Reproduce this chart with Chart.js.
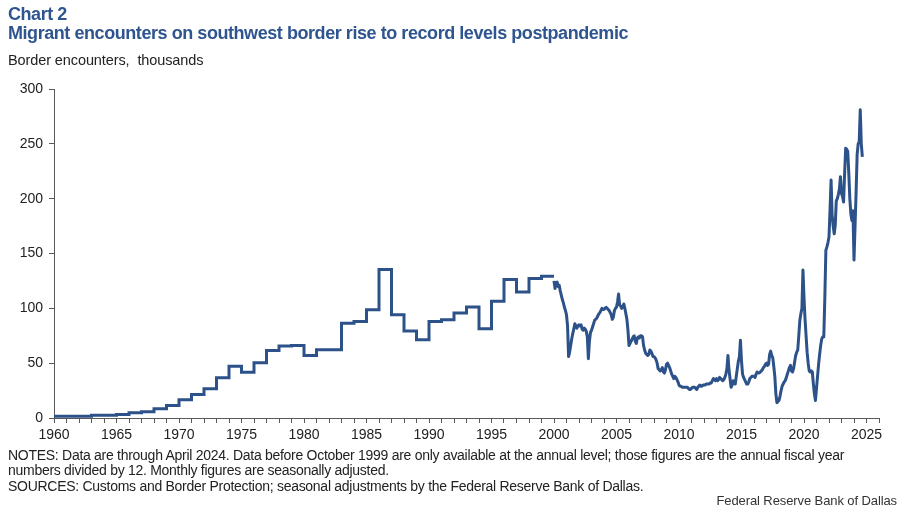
<!DOCTYPE html>
<html>
<head>
<meta charset="utf-8">
<script src="https://cdn.jsdelivr.net/npm/chart.js@4.4.1/dist/chart.umd.min.js"></script>
<style>
  html, body { margin: 0; padding: 0; background: #fff; }
  #wrap { position: relative; width: 907px; height: 514px; overflow: hidden; font-family: "Liberation Sans", Arial, sans-serif; }
  #c { position: absolute; left: 0; top: 0; }
  .t { position: absolute; white-space: pre; }
  #t1 { left: 8px; top: 4px; font-size: 18px; font-weight: bold; color: #2f5590; letter-spacing: -0.44px; }
  #t2 { left: 8px; top: 23px; font-size: 18px; font-weight: bold; color: #2f5590; letter-spacing: -0.44px; }
  #unit { left: 8px; top: 52px; font-size: 14.5px; color: #222; letter-spacing: -0.1px; }
  .note { left: 8px; font-size: 14px; color: #222; letter-spacing: -0.28px; }
  #n1 { top: 447px; } #n2 { top: 462px; } #n3 { top: 478px; }
  #src { right: 10px; top: 493px; font-size: 13px; color: #333; letter-spacing: -0.1px; }
</style>
</head>
<body>
<div id="wrap">
  <canvas id="c" width="907" height="514"></canvas>
  <div class="t" id="t1">Chart 2</div>
  <div class="t" id="t2">Migrant encounters on southwest border rise to record levels postpandemic</div>
  <div class="t" id="unit">Border encounters,  thousands</div>
  <div class="t note" id="n1">NOTES: Data are through April 2024. Data before October 1999 are only available at the annual level; those figures are the annual fiscal year</div>
  <div class="t note" id="n2">numbers divided by 12. Monthly figures are seasonally adjusted.</div>
  <div class="t note" id="n3">SOURCES: Customs and Border Protection; seasonal adjustments by the Federal Reserve Bank of Dallas.</div>
  <div class="t" id="src">Federal Reserve Bank of Dallas</div>
</div>
<script>
// ---- Data (thousands) ----
const annualStartYear = 1960;
// Annual fiscal-year figures divided by 12, 1960 ... 1999
const annualValues = [
  1.6, 1.6, 1.6, 2.6, 2.6, 3.2, 4.7, 5.6, 8.4, 11.4,
  16.6, 21.5, 26.6, 36.7, 47.3, 41.8, 50.4, 61.6, 65.6, 66.2,
  57.1, 62.3, 62.3, 86.4, 88.1, 98.8, 135.3, 94.2, 79.3, 71.4,
  88.1, 89.6, 95.7, 101.2, 81.4, 106.4, 126.2, 114.9, 127.1, 129.2
];
const annualEndYear = 2000;

// Monthly, seasonally adjusted (positions as drawn on the chart's time axis)
const monthlyStartYear = 2000;
const monthlyValues = [
  125, 118, 123, 124, 120, 121, 116, 112, 108, 105, 101, 98,   // 2000
  94, 84, 56, 60, 66, 72, 77, 81, 86, 84, 82, 84,              // 2001
  85, 84, 85, 81, 80, 82, 81, 79, 74, 54, 70, 78,              // 2002
  80, 83, 86, 89, 90, 91, 93, 95, 96, 98, 100, 99,             // 2003
  99, 100, 101, 100, 99, 98, 96, 94, 90, 92, 98, 100,          // 2004
  101, 106, 113, 103, 102, 100, 101, 104, 100, 95, 90, 80,     // 2005
  66, 68, 70, 72, 74, 75, 70, 68, 73, 74, 73, 75,              // 2006
  75, 74, 66, 62, 59, 58, 57, 58, 62, 61, 59, 56,              // 2007
  56, 55, 53, 50, 45, 44, 43, 44, 46, 42, 41, 44,              // 2008
  49, 50, 48, 46, 43, 40, 38, 36, 38, 37, 35, 33,              // 2009
  30, 29, 29, 28, 28, 28, 28, 28, 28, 27, 26, 26,              // 2010
  27, 28, 28, 28, 27, 26, 28, 29, 30, 29, 29, 30,              // 2011
  30, 30, 31, 31, 31, 31, 32, 32, 34, 36, 35, 34,              // 2012
  36, 34, 35, 37, 36, 35, 34, 35, 37, 40, 45, 57,              // 2013
  44, 36, 28, 30, 34, 33, 31, 38, 45, 52, 56, 71,              // 2014
  52, 40, 37, 35, 33, 31, 31, 33, 36, 37, 38, 38,              // 2015
  38, 37, 40, 42, 41, 41, 42, 43, 44, 46, 47, 49,              // 2016
  50, 48, 49, 58, 61, 57, 55, 47, 38, 22, 14, 15,              // 2017
  16, 20, 25, 29, 31, 33, 34, 37, 40, 43, 46, 48,              // 2018
  43, 42, 45, 51, 57, 60, 62, 75, 89, 95, 100, 135,            // 2019
  110, 90, 75, 60, 50, 43, 42, 43, 42, 31, 22, 16,             // 2020
  27, 38, 49, 58, 66, 72, 74, 74, 110, 153, 156, 160,          // 2021
  165, 190, 217, 185, 175, 168, 176, 198, 200, 204, 209, 220,  // 2022
  205, 202, 197, 223, 246, 245, 243, 223, 200, 186, 180, 189,  // 2023
  144, 175, 205, 240, 250, 252, 281, 250, 238                  // 2024
];

const xMin = 1960, xMax = 2026;
const yMin = 0, yMax = 300, yStep = 50;
const labelEvery = 5;

// ---- Build datasets ----
const annualPoints = annualValues.map((v, i) => ({ x: annualStartYear + i, y: v }));
annualPoints.push({ x: annualEndYear, y: annualValues[annualValues.length - 1] });
const monthlyPoints = monthlyValues.map((v, i) => ({ x: monthlyStartYear + i / 12, y: v }));

const lineColor = '#2d5289';
const axisColor = '#595959';
const tickFont = { family: 'Liberation Sans, Arial, sans-serif', size: 14 };

new Chart(document.getElementById('c').getContext('2d'), {
  type: 'line',
  data: {
    datasets: [
      { data: annualPoints, stepped: true, borderColor: lineColor, borderWidth: 3, pointRadius: 0, fill: false, borderJoinStyle: 'miter' },
      { data: monthlyPoints, borderColor: lineColor, borderWidth: 3, pointRadius: 0, fill: false, tension: 0, borderJoinStyle: 'round' }
    ]
  },
  options: {
    responsive: false,
    animation: false,
    devicePixelRatio: 1,
    layout: { padding: { left: 0, right: 28, top: 89, bottom: 66 } },
    plugins: { legend: { display: false }, tooltip: { enabled: false }, title: { display: false } },
    scales: {
      x: {
        type: 'linear', min: xMin, max: xMax,
        afterFit: s => { s.height = 30; },
        border: { display: true, color: axisColor, width: 1 },
        grid: { display: true, drawOnChartArea: false, drawTicks: true, tickLength: 5, color: axisColor },
        ticks: {
          stepSize: 1, maxTicksLimit: 200, autoSkip: false, maxRotation: 0, minRotation: 0,
          padding: 4, color: '#222', font: tickFont,
          callback: v => (v % labelEvery === 0 ? String(v) : '')
        }
      },
      y: {
        min: yMin, max: yMax,
        afterFit: s => { s.width = 54; },
        border: { display: true, color: axisColor, width: 1 },
        grid: { display: true, drawOnChartArea: false, drawTicks: true, tickLength: 5, color: axisColor },
        ticks: { stepSize: yStep, padding: 6, color: '#222', font: tickFont }
      }
    }
  }
});
</script>
</body>
</html>
